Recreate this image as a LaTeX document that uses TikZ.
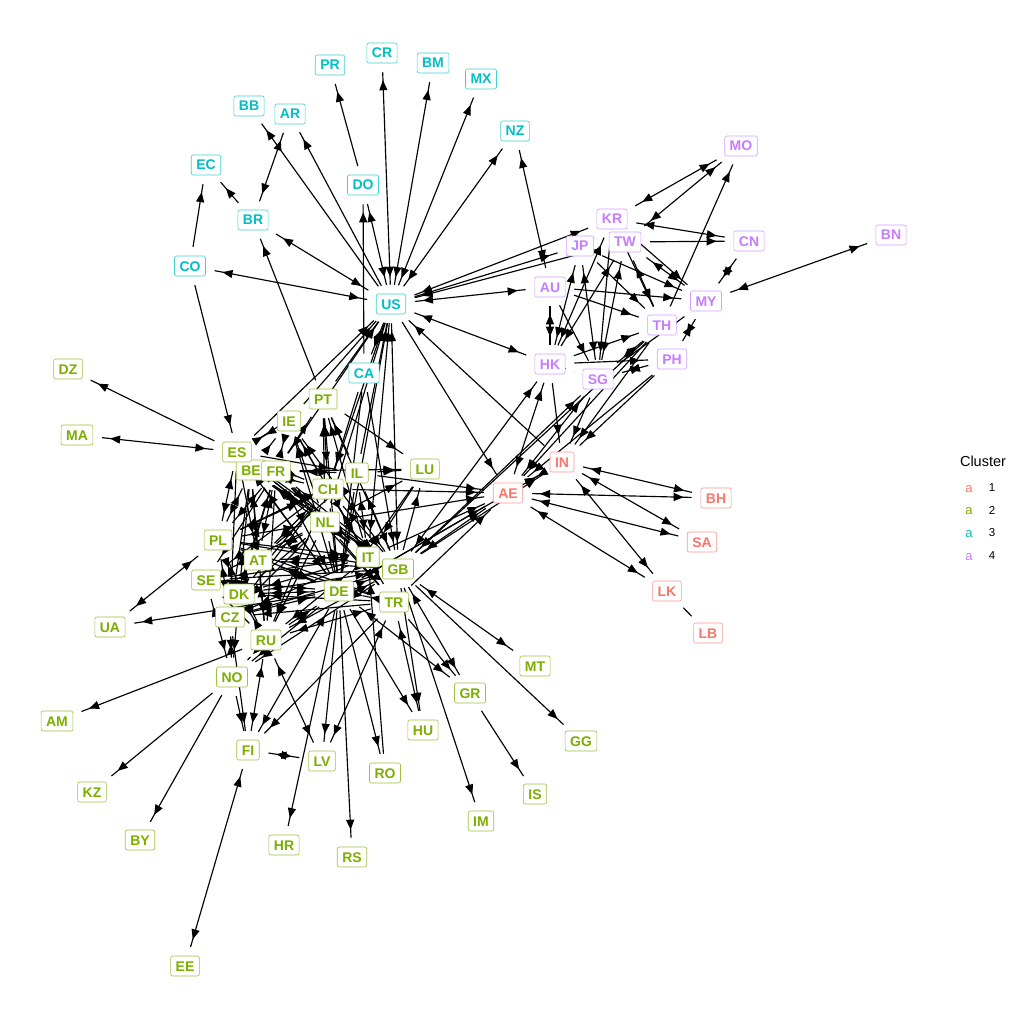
\documentclass[tikz,border=0pt]{standalone}
\usepackage{fontspec}
\setmainfont{Liberation Sans}
\usetikzlibrary{arrows.meta,decorations.markings}

\pgfdeclarelayer{bg}
\pgfsetlayers{bg,main}

\definecolor{clone}{HTML}{F8766D}
\definecolor{cltwo}{HTML}{7CAE00}
\definecolor{clthree}{HTML}{00BFC4}
\definecolor{clfour}{HTML}{C77CFF}

\tikzset{
  lab/.style={draw, fill=white, rounded corners=2pt, line width=0.6pt,
    inner xsep=5pt, inner ysep=5pt, text height=10pt, text depth=0pt,
    font=\fontsize{14}{14}\selectfont\bfseries},
  ca/.style={lab, draw=clone!75, text=clone},
  cb/.style={lab, draw=cltwo!75, text=cltwo},
  cc/.style={lab, draw=clthree!75, text=clthree},
  cd/.style={lab, draw=clfour!75, text=clfour},
  >={Triangle[length=10pt,width=8pt]},
  link/.style={draw, line width=1.15pt, shorten <=9pt, shorten >=9pt},
  linkone/.style={link, postaction={decorate},
    decoration={markings, mark=at position -17pt with {\arrow{>}}}},
  linktwo/.style={link, postaction={decorate},
    decoration={markings, mark=at position 17pt with {\arrowreversed{>}},
      mark=at position -17pt with {\arrow{>}}}},
}

\begin{document}
\begin{tikzpicture}[x=1pt,y=-1pt]
\useasboundingbox (0,0) rectangle (1024,1024);

% Cluster 3 (Americas and friends)
\node[cc] (PR) at (330,65) {PR};
\node[cc] (CR) at (382,53) {CR};
\node[cc] (BM) at (433,63) {BM};
\node[cc] (MX) at (481,79) {MX};
\node[cc] (BB) at (249,106) {BB};
\node[cc] (AR) at (290,114) {AR};
\node[cc] (NZ) at (515,131) {NZ};
\node[cc] (EC) at (206,165) {EC};
\node[cc] (DO) at (363,185) {DO};
\node[cc] (BR) at (253,220) {BR};
\node[cc] (CO) at (190,266) {CO};
\node[cc] (US) at (391,304) {US};
\node[cc] (CA) at (364,373) {CA};

% Cluster 4 (Asia)
\node[cd] (MO) at (741,146) {MO};
\node[cd] (KR) at (612,219) {KR};
\node[cd] (JP) at (580,246) {JP};
\node[cd] (TW) at (625,242) {TW};
\node[cd] (CN) at (749,241) {CN};
\node[cd] (BN) at (891,235) {BN};
\node[cd] (AU) at (550,287) {AU};
\node[cd] (MY) at (706,301) {MY};
\node[cd] (TH) at (662,325) {TH};
\node[cd] (PH) at (672,359) {PH};
\node[cd] (HK) at (550,364) {HK};
\node[cd] (SG) at (598,379) {SG};

% Cluster 1 (Gulf)
\node[ca] (IN) at (562,462) {IN};
\node[ca] (AE) at (508,493) {AE};
\node[ca] (BH) at (716,498) {BH};
\node[ca] (SA) at (702,542) {SA};
\node[ca] (LK) at (667,591) {LK};
\node[ca] (LB) at (708,633) {LB};

% Cluster 2 (Europe)
\node[cb] (DZ) at (68,369) {DZ};
\node[cb] (PT) at (323,399) {PT};
\node[cb] (IE) at (289,421) {IE};
\node[cb] (MA) at (77,435) {MA};
\node[cb] (BE) at (251,470) {BE};
\node[cb] (ES) at (237,452) {ES};
\node[cb] (FR) at (276,471) {FR};
\node[cb] (IL) at (357,473) {IL};
\node[cb] (LU) at (425,469) {LU};
\node[cb] (CH) at (328,489) {CH};
\node[cb] (NL) at (325,522) {NL};
\node[cb] (PL) at (218,540) {PL};
\node[cb] (AT) at (258,560) {AT};
\node[cb] (IT) at (368,557) {IT};
\node[cb] (GB) at (398,569) {GB};
\node[cb] (SE) at (206,580) {SE};
\node[cb] (DK) at (239,594) {DK};
\node[cb] (DE) at (339,591) {DE};
\node[cb] (TR) at (394,602) {TR};
\node[cb] (CZ) at (230,617) {CZ};
\node[cb] (UA) at (110,627) {UA};
\node[cb] (RU) at (266,640) {RU};
\node[cb] (MT) at (535,666) {MT};
\node[cb] (NO) at (232,677) {NO};
\node[cb] (GR) at (470,693) {GR};
\node[cb] (AM) at (57,721) {AM};
\node[cb] (HU) at (423,730) {HU};
\node[cb] (GG) at (581,741) {GG};
\node[cb] (FI) at (248,750) {FI};
\node[cb] (LV) at (322,761) {LV};
\node[cb] (RO) at (385,773) {RO};
\node[cb] (KZ) at (92,792) {KZ};
\node[cb] (IS) at (535,794) {IS};
\node[cb] (IM) at (481,821) {IM};
\node[cb] (BY) at (140,840) {BY};
\node[cb] (HR) at (284,845) {HR};
\node[cb] (RS) at (352,857) {RS};
\node[cb] (EE) at (185,966) {EE};

% Legend
\node (legtitle) at (983,461) {\fontsize{14.5}{14.5}\selectfont Cluster};
\node[text=clone] (keya) at (969,489) {\fontsize{13}{13}\selectfont a};
\node[text=cltwo] (keyb) at (969,511) {\fontsize{13}{13}\selectfont a};
\node[text=clthree] (keyc) at (969,534) {\fontsize{13}{13}\selectfont a};
\node[text=clfour] (keyd) at (969,557) {\fontsize{13}{13}\selectfont a};
\node (numa) at (992,488) {\fontsize{11.5}{11.5}\selectfont 1};
\node (numb) at (992,510) {\fontsize{11.5}{11.5}\selectfont 2};
\node (numc) at (992,533) {\fontsize{11.5}{11.5}\selectfont 3};
\node (numd) at (992,556) {\fontsize{11.5}{11.5}\selectfont 4};

\begin{pgfonlayer}{bg}
% Links around US
\foreach \a/\b in {US/CR, US/BM, US/MX, US/NZ, US/CO, US/BR, US/DO, US/CA,
  BR/AR, NZ/AU, US/AU, US/HK, US/JP, US/KR, US/GB, US/DE, US/FR, US/CH,
  US/NL, US/IT}
  \path[linktwo] (\a) -- (\b);
\foreach \a/\b in {US/AR, US/BB, DO/PR, BR/EC, CO/EC, CA/DO, CO/ES, PT/BR,
  TW/US, IN/US, US/AE, IL/US, ES/US, IE/US, PT/US, CA/CH, CA/GB, CA/DE}
  \path[linkone] (\a) -- (\b);

% Links inside Asia
\foreach \a/\b in {MO/KR, MO/TW, MY/CN, MY/BN, TW/MY, TW/TH, KR/HK, JP/HK,
  JP/SG, TW/SG, TW/HK, AU/HK, SG/TH, MY/PH, SG/PH, KR/CN}
  \path[linktwo] (\a) -- (\b);
\foreach \a/\b in {TH/MO, TW/CN, JP/MY, AU/MY, AU/TH, JP/TH, KR/SG, AU/SG,
  HK/SG, HK/TH, SG/MY, HK/PH, KR/TH, KR/MY}
  \path[linkone] (\a) -- (\b);

% Links around the Gulf
\foreach \a/\b in {AE/IN, AE/BH, AE/SA, AE/LK, IN/BH, IN/SA, IN/LK, GB/AE,
  DE/AE, AE/HK, AE/SG, GB/HK, GB/SG}
  \path[linktwo] (\a) -- (\b);
\foreach \a/\b in {IT/AE, CH/AE, IL/AE, TH/AE, PH/IN, SG/IN, HK/IN, GB/IN,
  DE/IN, NL/AE, TR/AE, TH/IN, PH/AE, TH/GB}
  \path[linkone] (\a) -- (\b);
\path[link] (LB) -- (LK);

% Europe, outer ring
\foreach \a/\b in {ES/MA, PL/UA, FI/EE, FI/LV, RU/FI, RU/LV, TR/LV, TR/HU,
  GR/DE, GR/GB, GB/MT, FI/DE}
  \path[linktwo] (\a) -- (\b);
\foreach \a/\b in {ES/DZ, DE/UA, RU/AM, NO/KZ, NO/BY, NO/FI, CZ/FI, TR/FI,
  DE/LV, DE/HR, DE/RS, DE/RO, RO/IT, DE/HU, GB/HU, TR/GR, GR/IS, GB/IM,
  GB/GG, IL/LU, PT/LU, LU/IT, LU/DE}
  \path[linkone] (\a) -- (\b);

% Europe, core
\foreach \a/\b in {DE/FR, DE/ES, DE/BE, DE/CH, DE/NL, DE/PL, DE/AT, DE/GB,
  DE/DK, DE/TR, DE/CZ, DE/RU, DE/SE, DE/IL, GB/FR, GB/ES, GB/CH, GB/NL,
  GB/AT, GB/RU, GB/IE, GB/PL, GB/IL, GB/DK, IT/FR, IT/ES, IT/CH, IT/AT,
  IT/PL, IT/RU, IT/IL, CH/ES, CH/BE, CH/AT, CH/PL, CH/PT, NL/FR, NL/BE,
  NL/AT, NL/PL, NL/DK, NL/IL, FR/IE, FR/PL, FR/AT, FR/CZ, FR/IL, ES/IE,
  ES/PL, BE/PL, BE/AT, PL/DK, PL/CZ, AT/RU, AT/CZ, DK/RU, SE/NO, CZ/NO,
  RU/TR}
  \path[linktwo] (\a) -- (\b);
\foreach \a/\b in {DE/IE, DE/PT, DE/NO, GB/BE, GB/PT, GB/SE, GB/CZ, GB/NO,
  GB/LU, IT/BE, IT/DK, IT/CZ, IT/SE, IT/PT, IT/IE, CH/IE, CH/DK, CH/SE,
  CH/CZ, CH/RU, CH/TR, NL/ES, NL/IE, NL/PT, NL/SE, NL/CZ, NL/RU, NL/TR,
  NL/LU, FR/PT, FR/DK, FR/SE, FR/RU, FR/TR, FR/LU, ES/PT, ES/AT, ES/IL,
  ES/CZ, BE/DK, BE/CZ, BE/RU, BE/IE, PL/RU, SE/RU, DK/NO, TR/AT, TR/CZ,
  TR/PL, TR/DK, IL/PT, IL/AT, IL/PL, RU/NO}
  \path[linkone] (\a) -- (\b);
\end{pgfonlayer}
\end{tikzpicture}
\end{document}
